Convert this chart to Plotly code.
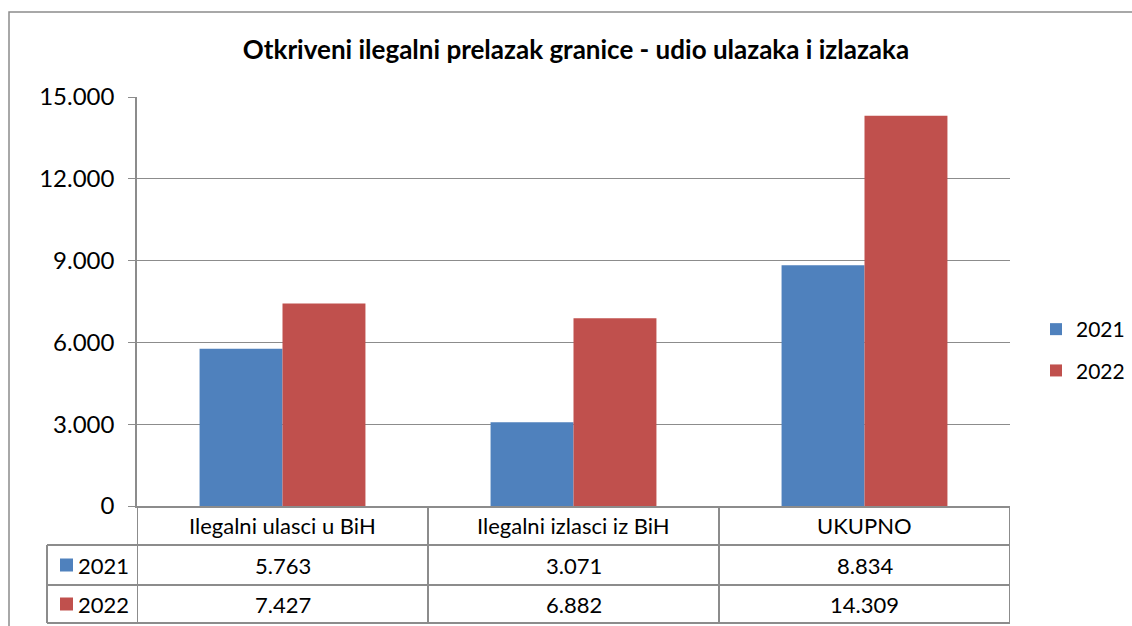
import plotly.graph_objects as go

categories = ["Ilegalni ulasci u BiH", "Ilegalni izlasci iz BiH", "UKUPNO"]
series_names = ["2021", "2022"]
values_2021 = [5763, 3071, 8834]
values_2022 = [7427, 6882, 14309]
y_ticks = [0, 3000, 6000, 9000, 12000, 15000]
title_text = "Otkriveni ilegalni prelazak granice - udio ulazaka i izlazaka"

colors = ["#4F81BD", "#C0504D"]
W, H = 1132, 626
FONT = "Lato"
GRID = "#8C8C8C"

def px_x(x):
    return x / W

def px_y(y):
    return 1 - y / H

fig = go.Figure()
for name, vals, col in zip(series_names, [values_2021, values_2022], colors):
    fig.add_trace(go.Bar(x=categories, y=vals, name=name, marker=dict(color=col, line=dict(width=0)),
                         legendgroup=name))

def fmt(v):
    return f"{v:,}".replace(",", ".")

# table geometry (pixels)
plot_l, plot_r = 137, 1010
table_l = 47
y_axis, y_hdr, y_r1, y_r2 = 506, 545, 585, 623

shapes = []
line = dict(color=GRID, width=2)
for yy, x0 in [(y_hdr, table_l), (y_r1, table_l), (y_r2, table_l)]:
    shapes.append(dict(type="line", xref="paper", yref="paper", x0=px_x(x0), x1=px_x(plot_r),
                       y0=px_y(yy), y1=px_y(yy), line=line))
for b in [-0.5, 0.5, 1.5, 2.5]:
    shapes.append(dict(type="line", xref="x", yref="paper", x0=b, x1=b,
                       y0=px_y(y_axis), y1=px_y(y_r2), line=line))
shapes.append(dict(type="line", xref="paper", yref="paper", x0=px_x(table_l), x1=px_x(table_l),
                   y0=px_y(y_hdr), y1=px_y(y_r2), line=line))
# outer border
shapes.append(dict(type="rect", xref="paper", yref="paper", x0=px_x(9), x1=px_x(1140),
                   y0=px_y(640), y1=px_y(12), line=dict(color="#8C8C8C", width=1.5)))

annotations = []
tfont = dict(family=FONT, size=22, color="#000000")
for c in categories:
    annotations.append(dict(x=c, xref="x", y=px_y((y_axis + y_hdr) / 2), yref="paper",
                            text=c, showarrow=False, font=tfont, xanchor="center", yanchor="middle"))
for (name, vals, col), (ya, yb) in zip(zip(series_names, [values_2021, values_2022], colors),
                                       [(y_hdr, y_r1), (y_r1, y_r2)]):
    ymid = (ya + yb) / 2
    ym = px_y(ymid)
    for c, v in zip(categories, vals):
        annotations.append(dict(x=c, xref="x", y=ym, yref="paper", text=fmt(v), showarrow=False,
                                font=tfont, xanchor="center", yanchor="middle"))
    # legend key square of the data table
    shapes.append(dict(type="rect", xref="paper", yref="paper", x0=px_x(60), x1=px_x(73),
                       y0=px_y(ymid + 6.5), y1=px_y(ymid - 6.5), fillcolor=col, line=dict(width=0)))
    annotations.append(dict(x=px_x(76), xref="paper", y=ym, yref="paper",
                            text=name, showarrow=False,
                            font=dict(family=FONT, size=22, color="#000000"), xanchor="left", yanchor="middle"))

fig.update_layout(
    width=W, height=H,
    margin=dict(l=0, r=0, t=0, b=0, autoexpand=False),
    paper_bgcolor="white", plot_bgcolor="white",
    separators=",.",
    title=dict(text=f"<b>{title_text}</b>", x=576 / W, xanchor="center", y=px_y(50), yanchor="middle",
               font=dict(family=FONT, size=26, color="#000000")),
    font=dict(family=FONT, size=21, color="#000000"),
    barmode="group", bargap=0.43, bargroupgap=0,
    xaxis=dict(domain=[px_x(plot_l), px_x(plot_r)], showticklabels=False, showgrid=False,
               showline=True, linecolor=GRID, linewidth=1.5, ticks="", range=[-0.5, 2.5],
               zeroline=False, automargin=False),
    yaxis=dict(domain=[px_y(y_axis), px_y(97)], range=[0, 15000], tickvals=y_ticks, tickformat=",d",
               showgrid=True, gridcolor=GRID, gridwidth=1, showline=True, linecolor=GRID, linewidth=1.5,
               ticks="outside", ticklen=7, tickcolor=GRID, zeroline=False, automargin=False,
               ticklabelstandoff=9,
               tickfont=dict(family=FONT, size=24, color="#000000")),
    legend=dict(x=1036 / W, xanchor="left", y=px_y(309), yanchor="top", font=dict(family=FONT, size=21),
                tracegroupgap=11, traceorder="grouped", itemwidth=30, bgcolor="rgba(0,0,0,0)"),
    shapes=shapes, annotations=annotations,
)

fig.write_html("out.html", config={"displayModeBar": False},
               post_script="document.body.style.margin='0';document.body.style.overflow='hidden';")
